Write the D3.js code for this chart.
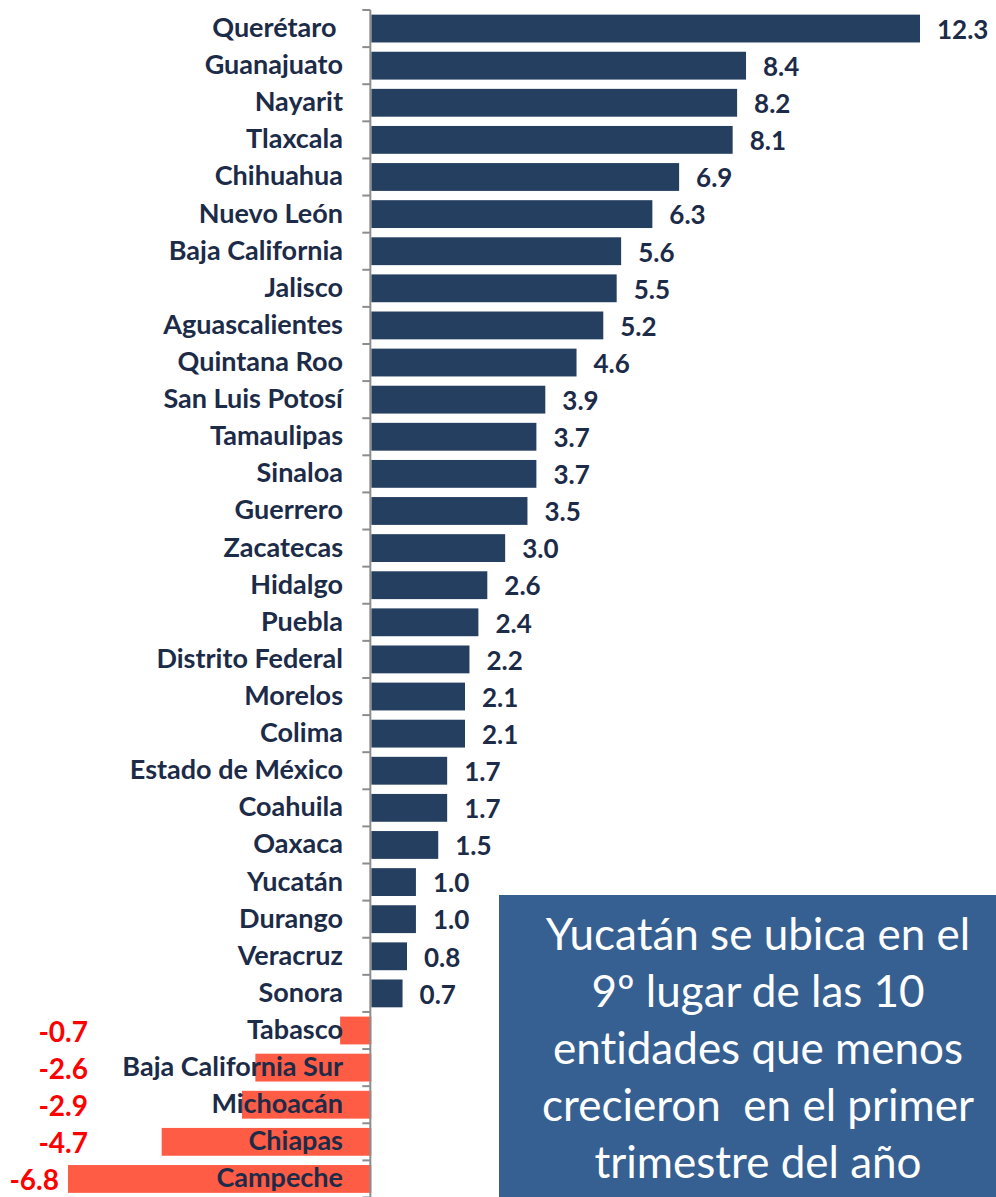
<!DOCTYPE html>
<html>
<head>
<meta charset="utf-8">
<script src="https://cdn.jsdelivr.net/npm/d3@7"></script>
<style>
  html, body { margin: 0; padding: 0; background: #fff; }
  svg { display: block; }
  text { font-family: Lato, "Noto Sans", sans-serif; white-space: pre; font-variant-ligatures: none; }
</style>
</head>
<body>
<svg id="chart" width="996" height="1197"></svg>
<script>
// states, ordered as in the chart (top to bottom)
var states = ['Querétaro ', 'Guanajuato', 'Nayarit', 'Tlaxcala', 'Chihuahua', 'Nuevo León',
    'Baja California', 'Jalisco', 'Aguascalientes', 'Quintana Roo', 'San Luis Potosí',
    'Tamaulipas', 'Sinaloa', 'Guerrero', 'Zacatecas', 'Hidalgo', 'Puebla', 'Distrito Federal',
    'Morelos', 'Colima', 'Estado de México', 'Coahuila', 'Oaxaca', 'Yucatán', 'Durango',
    'Veracruz', 'Sonora', 'Tabasco', 'Baja California Sur', 'Michoacán', 'Chiapas', 'Campeche'];

// growth, %
var growth = [12.3, 8.4, 8.2, 8.1, 6.9, 6.3, 5.6, 5.5, 5.2, 4.6, 3.9, 3.7, 3.7, 3.5, 3.0,
    2.6, 2.4, 2.2, 2.1, 2.1, 1.7, 1.7, 1.5, 1.0, 1.0, 0.8, 0.7, -0.7, -2.6, -2.9, -4.7, -6.8];

var noteLines = ['Yucatán se ubica en el', '9º lugar de las 10', 'entidades que menos',
    'crecieron  en el primer', 'trimestre del año'];

var svg = d3.select('#chart');

var x = d3.scaleLinear()
    .domain([d3.min(growth), d3.max(growth)])
    .range([68, 920]);

var y = d3.scaleBand()
    .domain(states)
    .range([10, 1197.5])
    .paddingInner(0.25)
    .paddingOuter(0.125);

var fmt = function (v) { return d3.format('.1f')(v).replace('\u2212', '-'); };

var rows = states.map(function (s, i) { return {name: s, v: growth[i]}; });

// bars
svg.append('g').selectAll('rect').data(rows)
    .enter()
    .append('rect')
    .attr('x', function (d) { return x(Math.min(0, d.v)); })
    .attr('y', function (d) { return y(d.name); })
    .attr('width', function (d) { return Math.abs(x(d.v) - x(0)); })
    .attr('height', y.bandwidth())
    .attr('fill', function (d) { return d.v < 0 ? '#ff5c45' : '#253f60'; });

// axis line + ticks at category boundaries
var axisG = svg.append('g').attr('stroke', '#8c8c8c').attr('stroke-width', 2);
axisG.append('line')
    .attr('x1', x(0) - 1).attr('x2', x(0) - 1)
    .attr('y1', y.range()[0]).attr('y2', y.range()[1]);
axisG.selectAll('.tick').data(d3.range(states.length + 1))
    .enter()
    .append('line')
    .attr('class', 'tick')
    .attr('x1', x(0) - 9).attr('x2', x(0) - 1)
    .attr('y1', function (i) { return y.range()[0] + i * y.step(); })
    .attr('y2', function (i) { return y.range()[0] + i * y.step(); });

// category labels
svg.append('g').selectAll('text').data(rows)
    .enter()
    .append('text')
    .attr('x', 343)
    .attr('y', function (d) { return y(d.name) + y.bandwidth() / 2 + 8.5; })
    .attr('text-anchor', 'end')
    .attr('font-size', 27)
    .attr('font-weight', 700)
    .attr('fill', '#1c2b48')
    .text(function (d) { return d.name; });

// value labels
svg.append('g').selectAll('text').data(rows)
    .enter()
    .append('text')
    .attr('x', function (d) { return d.v < 0 ? Math.min(88, x(d.v) - 9) : x(d.v) + 17; })
    .attr('y', function (d) { return y(d.name) + y.bandwidth() / 2 + (d.v < 0 ? 11 : 10.3); })
    .attr('text-anchor', function (d) { return d.v < 0 ? 'end' : 'start'; })
    .attr('font-size', function (d) { return d.v < 0 ? 28 : 26; })
    .attr('font-weight', 700)
    .attr('fill', function (d) { return d.v < 0 ? '#ff0000' : '#1c2b48'; })
    .text(function (d) { return fmt(d.v); });

// note box
var note = svg.append('g');
note.append('rect')
    .attr('x', 499).attr('y', 895)
    .attr('width', 497).attr('height', 310)
    .attr('fill', '#376092');
note.selectAll('text').data(noteLines)
    .enter()
    .append('text')
    .attr('x', 758)
    .attr('y', function (d, i) { return 950 + i * 57; })
    .attr('text-anchor', 'middle')
    .attr('font-size', 44)
    .attr('fill', '#ffffff')
    .text(function (d) { return d; });
</script>
</body>
</html>
